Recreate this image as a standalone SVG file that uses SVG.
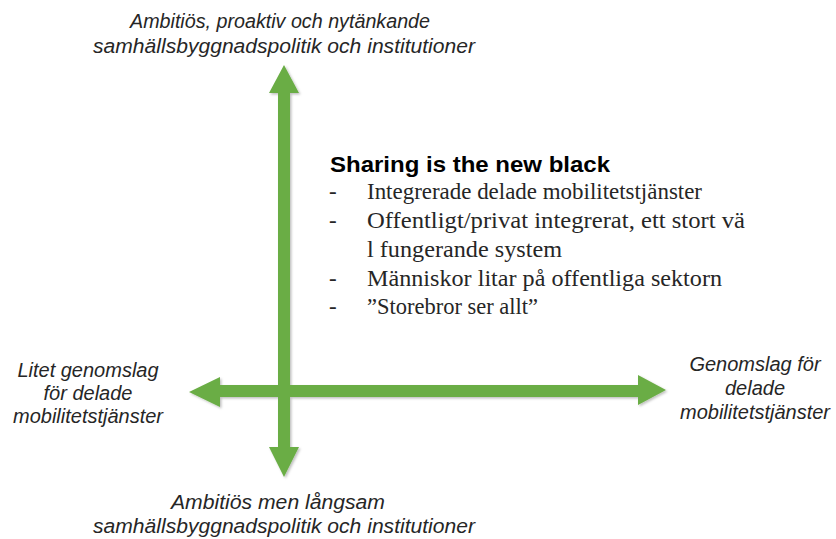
<svg xmlns="http://www.w3.org/2000/svg" width="836" height="539" viewBox="0 0 836 539">
<defs>
<style>
.ax{font-family:"Liberation Sans",Arial,sans-serif;font-style:italic;font-size:20px;fill:#262626;text-anchor:middle}
.hd{font-family:"Liberation Sans",Arial,sans-serif;font-weight:bold;font-size:22px;fill:#000}
.bl{font-family:"Liberation Serif","Times New Roman",serif;font-size:23px;fill:#262626}
.arr{fill:#6AAD45}
</style>
<filter id="sh" x="-10%" y="-10%" width="120%" height="120%">
<feDropShadow dx="1.5" dy="1.5" stdDeviation="1" flood-color="#000" flood-opacity="0.25"/>
</filter>
</defs>
<rect width="836" height="539" fill="#fff"/>
<g id="connectors" filter="url(#sh)">
<path class="arr" d="M284,65 L299,93 L290,93 L290,447 L299,447 L284,477 L269,447 L278,447 L278,93 L269,93 Z"/>
<path class="arr" d="M189,392 L220,377 L220,385 L638,385 L638,375 L666,390 L638,405 L638,397 L220,397 L220,407 Z"/>
</g>
<g id="top-label">
<text class="ax" x="280" y="28" textLength="300" lengthAdjust="spacingAndGlyphs">Ambitiös, proaktiv och nytänkande</text>
<text class="ax" x="284" y="53" textLength="382" lengthAdjust="spacingAndGlyphs">samhällsbyggnadspolitik och institutioner</text>
</g>
<g id="left-label">
<text class="ax" x="88" y="377">Litet genomslag</text>
<text class="ax" x="88" y="400">för delade</text>
<text class="ax" x="88" y="423">mobilitetstjänster</text>
</g>
<g id="right-label">
<text class="ax" x="755" y="371">Genomslag för</text>
<text class="ax" x="755" y="395">delade</text>
<text class="ax" x="755" y="419">mobilitetstjänster</text>
</g>
<g id="bottom-label">
<text class="ax" x="278" y="509" textLength="214" lengthAdjust="spacingAndGlyphs">Ambitiös men långsam</text>
<text class="ax" x="284" y="533" textLength="382" lengthAdjust="spacingAndGlyphs">samhällsbyggnadspolitik och institutioner</text>
</g>
<g id="scenario">
<text class="hd" x="330" y="172" textLength="280" lengthAdjust="spacingAndGlyphs">Sharing is the new black</text>
<text class="bl" x="329" y="199">-</text><text class="bl" x="367" y="199" textLength="335" lengthAdjust="spacingAndGlyphs">Integrerade delade mobilitetstjänster</text>
<text class="bl" x="329" y="228">-</text><text class="bl" x="367" y="228" textLength="378" lengthAdjust="spacingAndGlyphs">Offentligt/privat integrerat, ett stort vä</text>
<text class="bl" x="367" y="257" textLength="195" lengthAdjust="spacingAndGlyphs">l fungerande system</text>
<text class="bl" x="329" y="286">-</text><text class="bl" x="367" y="286" textLength="355" lengthAdjust="spacingAndGlyphs">Människor litar på offentliga sektorn</text>
<text class="bl" x="329" y="314">-</text><text class="bl" x="367" y="314" textLength="171" lengthAdjust="spacingAndGlyphs">”Storebror ser allt”</text>
</g>
</svg>
